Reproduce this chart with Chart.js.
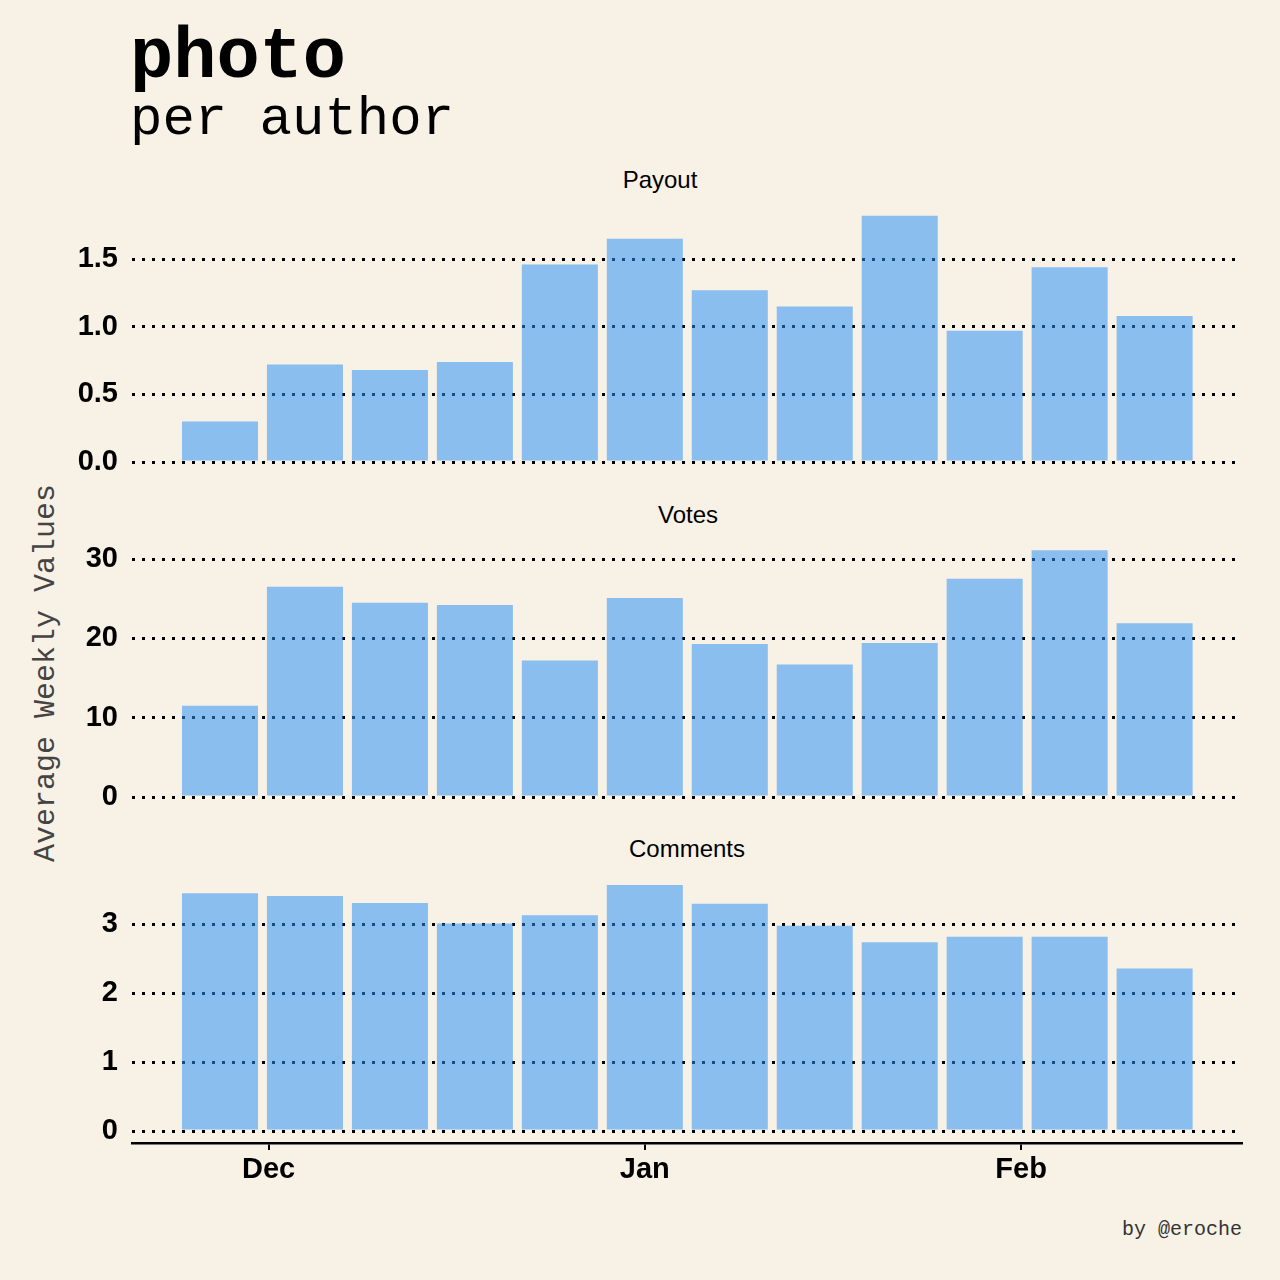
<!DOCTYPE html>
<html>
<head>
<meta charset="utf-8">
<script src="https://cdn.jsdelivr.net/npm/chart.js@4.4.1/dist/chart.umd.min.js"></script>
<style>
  body { margin: 0; background: #f8f1e6; }
  #wrap { position: relative; width: 1280px; height: 1280px; background: #f8f1e6; overflow: hidden; }
  #wrap canvas { position: absolute; left: 0; }
  .txt { position: absolute; white-space: nowrap; color: #000; }
  .mono { font-family: "Courier New", "Liberation Mono", monospace; }
  .panel-title { font-family: "Liberation Sans", Arial, sans-serif; font-size: 24px; transform: translateX(-50%); }
</style>
</head>
<body>
<div id="wrap">
  <div class="txt mono" style="left:130px; top:18px; font-size:72px; font-weight:bold; line-height:80px;">photo</div>
  <div class="txt mono" style="left:130px; top:90px; font-size:54px; line-height:60px;">per author</div>
  <div class="txt mono" style="left:46px; top:673px; font-size:30px; color:#444; transform: translate(-50%,-50%) rotate(-90deg);">Average Weekly Values</div>
  <div class="txt panel-title" style="left:660px; top:166px;">Payout</div>
  <div class="txt panel-title" style="left:688px; top:501px;">Votes</div>
  <div class="txt panel-title" style="left:687px; top:835px;">Comments</div>
  <div class="txt mono" style="right:38px; top:1218px; font-size:20px; color:#333;">by @eroche</div>
  <canvas id="c1" width="1250" height="282" style="top:200px; width:1250px; height:282px;"></canvas>
  <canvas id="c2" width="1250" height="282" style="top:535px; width:1250px; height:282px;"></canvas>
  <canvas id="c3" width="1250" height="324" style="top:869px; width:1250px; height:324px;"></canvas>
</div>
<script>
// weekly data (week centre dates)
const weeks = ['2017-11-27', '2017-12-04', '2017-12-11', '2017-12-18', '2017-12-25', '2018-01-01',
               '2018-01-08', '2018-01-15', '2018-01-22', '2018-01-29', '2018-02-05', '2018-02-12'];
const payout = [0.30, 0.72, 0.68, 0.74, 1.46, 1.65, 1.27, 1.15, 1.82, 0.97, 1.44, 1.08];
const votes = [11.5, 26.5, 24.5, 24.2, 17.2, 25.1, 19.3, 16.7, 19.4, 27.5, 31.1, 21.9];
const comments = [3.45, 3.41, 3.31, 3.01, 3.13, 3.57, 3.30, 2.98, 2.74, 2.82, 2.82, 2.36];
const monthTicks = ['2017-12-01', '2018-01-01', '2018-02-01'];
const monthLabels = ['Dec', 'Jan', 'Feb'];

const origin = Date.parse('2017-12-01');
function day(d) { return (Date.parse(d) - origin) / 86400000; }

const barColor = 'rgba(40, 146, 248, 0.53)';
const tickFont = { family: '"Liberation Sans", Arial, sans-serif', size: 29, weight: 'bold' };

function makePanel(id, values, yOpts, showX) {
  var ctx = document.getElementById(id).getContext('2d');
  return new Chart(ctx, {
    type: 'bar',
    data: {
      datasets: [{
        data: values.map((v, i) => ({ x: day(weeks[i]), y: v })),
        backgroundColor: barColor,
        borderWidth: 0,
        categoryPercentage: 1,
        barPercentage: 0.895
      }]
    },
    options: {
      responsive: false,
      animation: false,
      layout: { padding: { top: 5, bottom: showX ? 0 : 20, left: 0, right: 8 } },
      plugins: { legend: { display: false }, tooltip: { enabled: false } },
      scales: {
        x: {
          type: 'linear',
          min: -11.25,
          max: 80.2,
          offset: false,
          display: showX,
          afterBuildTicks: s => { s.ticks = monthTicks.map(d => ({ value: day(d) })); },
          afterFit: s => {
            if (showX) s.height = 50;
            s.paddingLeft = 0; s.paddingRight = 0;
          },
          ticks: {
            autoSkip: false,
            maxRotation: 0,
            padding: 3,
            color: '#000',
            font: { family: '"Liberation Sans", Arial, sans-serif', size: 29, weight: 'bold' },
            callback: (v, i) => monthLabels[i]
          },
          grid: { offset: false, drawOnChartArea: false, drawTicks: true, tickLength: 7, color: '#000', lineWidth: 2 },
          border: { display: true, color: '#000', width: 2.5 }
        },
        y: Object.assign({
          afterFit: s => { s.width = 132; s.paddingTop = 0; s.paddingBottom = 0; },
          ticks: {
            includeBounds: false,
            padding: 14,
            color: '#000',
            font: tickFont
          },
          grid: { drawTicks: false, color: '#000', lineWidth: 3 },
          border: { display: false, dash: [3, 7] }
        }, yOpts)
      }
    }
  });
}

var c1 = makePanel('c1', payout, { min: 0, max: 1.9 }, false);
c1.options.scales.y.ticks.stepSize = 0.5;
c1.options.scales.y.ticks.callback = v => v.toFixed(1);
c1.update();

var c2 = makePanel('c2', votes, { min: 0, max: 32.4 }, false);
c2.options.scales.y.ticks.stepSize = 10;
c2.update();

var c3 = makePanel('c3', comments, { min: -0.174, max: 3.73 }, true);
c3.options.scales.y.ticks.stepSize = 1;
c3.update();
</script>
</body>
</html>
